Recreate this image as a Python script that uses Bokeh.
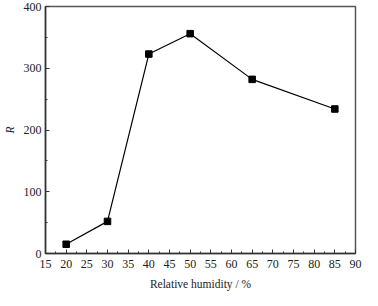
from bokeh.plotting import figure
from bokeh.models import Range1d, SingleIntervalTicker
from bokeh.embed import file_html
from bokeh.resources import INLINE

humidity = [20, 30, 40, 50, 65, 85]
r_values = [15, 52, 323, 356, 282, 234]

p = figure(width=362, height=290, frame_width=310, frame_height=247,
           output_backend="svg", toolbar_location=None,
           x_range=Range1d(15, 90), y_range=Range1d(0, 400),
           min_border_left=42, min_border_right=10, min_border_top=6, min_border_bottom=37)
p.grid.visible = False
p.background_fill_color = "white"
p.outline_line_color = "#555555"
p.outline_line_width = 1.5

p.line(humidity, r_values, line_color="black", line_width=1.2)
p.scatter(humidity, r_values, marker="square", size=6.5, color="black")

p.xaxis.ticker = SingleIntervalTicker(interval=5, num_minor_ticks=2)
p.yaxis.ticker = SingleIntervalTicker(interval=100, num_minor_ticks=2)
for ax in [p.xaxis[0], p.yaxis[0]]:
    ax.major_tick_in = 4
    ax.major_tick_out = 0
    ax.minor_tick_in = 2
    ax.minor_tick_out = 0
    ax.axis_line_color = "#333333"
    ax.axis_line_width = 1.5
    ax.major_tick_line_color = "#333333"
    ax.minor_tick_line_color = "#333333"
    ax.major_label_text_font = "Liberation Serif"
    ax.major_label_text_font_size = "12px"
    ax.major_label_text_color = "#222222"
    ax.axis_label_text_font = "Liberation Serif"
    ax.axis_label_text_font_size = "11.5px"
    ax.axis_label_text_color = "#222222"

p.xaxis.major_label_standoff = 6
p.yaxis.major_label_standoff = 4
p.xaxis.axis_label = "Relative humidity / %"
p.xaxis.axis_label_text_font_style = "normal"
p.xaxis.axis_label_standoff = 7
p.yaxis.axis_label = "R"
p.yaxis.axis_label_text_font_style = "italic"
p.yaxis.axis_label_standoff = 5

open("out.html", "w").write(file_html(p, INLINE))
